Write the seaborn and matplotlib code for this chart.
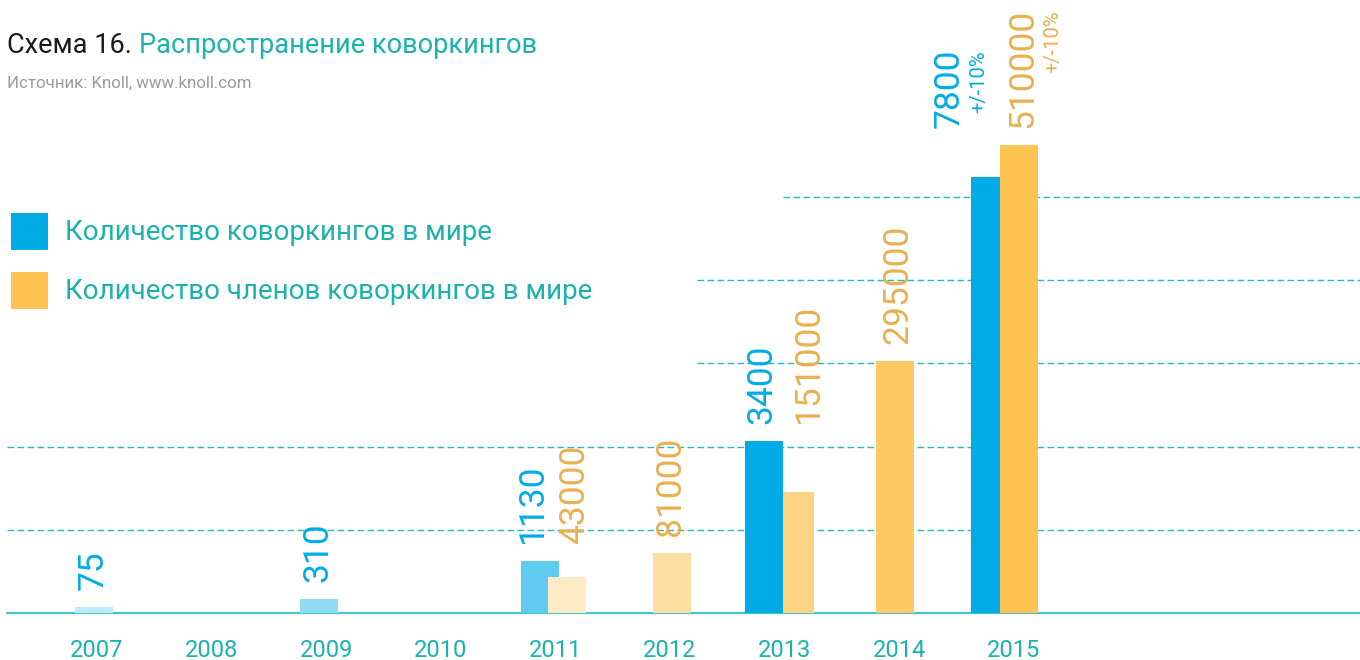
import numpy as np
import pandas as pd
import matplotlib
matplotlib.use("Agg")
import matplotlib.pyplot as plt
import seaborn as sns
from matplotlib.patches import Rectangle
from matplotlib.colors import to_rgb

# ---------------- data ----------------
years = ["2007", "2008", "2009", "2010", "2011", "2012", "2013", "2014", "2015"]

cw_years = ["2007", "2009", "2011", "2013", "2015"]
cw_values = [75, 310, 1130, 3400, 7800]
# drawn bar lengths (the chart's own, non-linear visual scale; grid step = 1)
cw_heights = [0.072, 0.168, 0.625, 2.065, 5.235]

mb_years = ["2011", "2012", "2013", "2014", "2015"]
mb_values = [43000, 81000, 151000, 295000, 510000]
mb_heights = [0.432, 0.72, 1.453, 3.025, 5.62]

note_year = "2015"
note_text = "+/-10%"

series_names = ["Количество коворкингов в мире", "Количество членов коворкингов в мире"]
title_prefix = "Схема 16."
title_main = "Распространение коворкингов"
source_text = "Источник: Knoll, www.knoll.com"

grid_levels = [1, 2, 3, 4, 5]

# ---------------- style / layout ----------------
W, H = 1360, 660
PX_X = 114.58          # px per category
X0 = 97.0              # px of first category
BASE = 613.0           # px of baseline (from top)
PX_Y = 83.25           # px per grid step
LEFT = 7.0

BLUE = "#00ACE6"
ORANGE = "#FEC350"
BLUE_TXT = "#00ACE6"
ORANGE_TXT = "#E8B04E"
TEAL = "#1AB2AA"
GRID = "#22BBBF"
BASELINE = "#4CC4C6"

cw_offset_px = [-3, -7, -15, -20.5, -28]
cw_width_px = [38, 38, 38, 38, 29]
cw_tint = [0.25, 0.43, 0.63, 1.0, 1.0]
cw_label_dx = [-4, -4, -11, -5, -40]

mb_offset_px = [11.7, 2, 14, -4, 5.4]
mb_width_px = [38, 38, 31, 38, 38]
mb_tint = [0.33, 0.54, 0.71, 0.9, 1.0]
mb_label_dx = [4.5, -4.5, 7, -0.5, 0.5]

grid_start_px = [7, 7, 697, 697, 783]
LABEL_GAP_PX = 17

FONT = ["Roboto", "DejaVu Sans"]

sns.set_theme(style="white")
plt.rcParams["font.family"] = FONT
plt.rcParams["lines.scale_dashes"] = False


def tint(color, a):
    r, g, b = to_rgb(color)
    return (1 - a + a * r, 1 - a + a * g, 1 - a + a * b)


fig = plt.figure(figsize=(W / 100, H / 100), dpi=100)
ax = fig.add_axes([LEFT / W, (H - BASE) / H, (W - LEFT) / W, BASE / H])

df_cw = pd.DataFrame({"year": cw_years, "height": cw_heights})
df_mb = pd.DataFrame({"year": mb_years, "height": mb_heights})

sns.barplot(data=df_cw, x="year", y="height", order=years, color=BLUE,
            saturation=1, errorbar=None, width=0.33, ax=ax, zorder=3)
n_cw = len(ax.patches)
sns.barplot(data=df_mb, x="year", y="height", order=years, color=ORANGE,
            saturation=1, errorbar=None, width=0.33, ax=ax, zorder=4)


def restyle(patches, yrs, offs, widths, tints, base_color):
    for p in patches:
        idx = int(round(p.get_x() + p.get_width() / 2))
        k = yrs.index(years[idx])
        w = widths[k] / PX_X
        c = idx + offs[k] / PX_X
        p.set_x(c - w / 2)
        p.set_width(w)
        p.set_facecolor(tint(base_color, tints[k]))
        p.set_edgecolor("none")
        p.set_linewidth(0)


restyle(ax.patches[:n_cw], cw_years, cw_offset_px, cw_width_px, cw_tint, BLUE)
restyle(ax.patches[n_cw:], mb_years, mb_offset_px, mb_width_px, mb_tint, ORANGE)

ax.set_xlim((LEFT - X0) / PX_X, (W - X0) / PX_X)
ax.set_ylim(0, BASE / PX_Y)
for s in ax.spines.values():
    s.set_visible(False)
ax.set_yticks([])
ax.set_ylabel("")
ax.set_xlabel("")
ax.set_xticks(range(len(years)), years)
ax.tick_params(axis="x", length=0, pad=19, labelsize=17, labelcolor=TEAL)

# grid lines & baseline
span = W - LEFT
for lvl, sx in zip(grid_levels, grid_start_px):
    ax.axhline(lvl, xmin=(sx - LEFT) / span, xmax=1, color=GRID, lw=1.0,
               dashes=(4.8, 2.4), zorder=1)
ax.axhline(0, color=BASELINE, lw=1.6, zorder=2, clip_on=False)

# value labels
VAL_FS = 25.5
CAP_PT = VAL_FS * 0.711 / 2  # half digit height in points (baseline offset)


def group_top(year):
    tops = []
    if year in cw_years:
        tops.append(cw_heights[cw_years.index(year)])
    if year in mb_years:
        tops.append(mb_heights[mb_years.index(year)])
    return max(tops)


value_texts = {}
for yrs, vals, offs, ldx, col, key in [
    (cw_years, cw_values, cw_offset_px, cw_label_dx, BLUE_TXT, "cw"),
    (mb_years, mb_values, mb_offset_px, mb_label_dx, ORANGE_TXT, "mb"),
]:
    for k, (yr, v) in enumerate(zip(yrs, vals)):
        idx = years.index(yr)
        xc = idx + (offs[k] + ldx[k]) / PX_X
        yb = group_top(yr) + LABEL_GAP_PX / PX_Y
        t = ax.annotate(str(v), xy=(xc, yb), xycoords="data",
                        xytext=(CAP_PT, 0), textcoords="offset points",
                        rotation=90, rotation_mode="anchor", ha="left", va="baseline",
                        fontsize=VAL_FS, color=col, zorder=5)
        value_texts[(key, yr)] = t

# +/-10% notes next to the 2015 values
for key, col in [("cw", BLUE_TXT), ("mb", ORANGE_TXT)]:
    t = value_texts[(key, note_year)]
    ax.annotate(note_text, xy=(1, 1), xycoords=t,
                xytext=(14, -1), textcoords="offset points",
                rotation=90, rotation_mode="anchor", ha="right", va="baseline",
                fontsize=14.5, color=col, zorder=5)

# title
t1 = fig.text(LEFT / W, 1 - 53 / H, title_prefix, fontsize=19.5, color="#1a1a1a",
              ha="left", va="baseline")
fig.canvas.draw()
ax.annotate(title_main, xy=(1, 0), xycoords=t1, xytext=(5, 0),
            textcoords="offset points", ha="left", va="bottom",
            fontsize=19.5, color=TEAL, annotation_clip=False)
fig.text(LEFT / W, 1 - 88 / H, source_text, fontsize=12.2, color="#9a9a9a",
         ha="left", va="baseline")

# legend (manual squares)
for i, (name, col) in enumerate(zip(series_names, [BLUE, ORANGE])):
    top = 213 + i * 59
    fig.add_artist(Rectangle((11 / W, 1 - (top + 37) / H), 37 / W, 37 / H,
                             transform=fig.transFigure, facecolor=col,
                             edgecolor="none"))
    fig.text(65 / W, 1 - (top + 27) / H, name, fontsize=20, color=TEAL,
             ha="left", va="baseline")

fig.savefig("out.png", dpi=100)
